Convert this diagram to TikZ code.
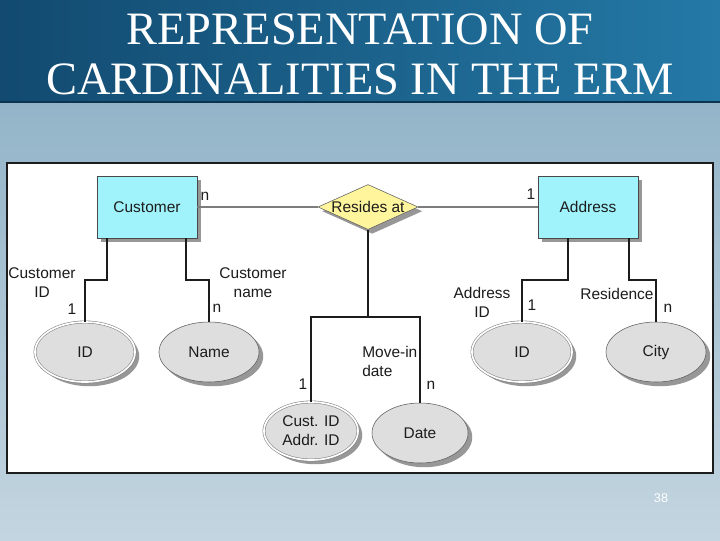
\documentclass[tikz,border=0pt]{standalone}
\usepackage{fontspec}
\setmainfont{Liberation Sans}
\newfontfamily\titlefont{Liberation Serif}
\usetikzlibrary{shapes.geometric,shadows,calc}
\definecolor{ErmBandDark}{HTML}{124A70}
\definecolor{ErmBandLight}{HTML}{2479A6}
\definecolor{ErmSkyTop}{HTML}{93B4C8}
\definecolor{ErmSkyBot}{HTML}{C3D5E0}
\definecolor{ErmCyan}{HTML}{A0F3FA}
\definecolor{ErmYellow}{HTML}{FFF59C}
\definecolor{ErmOval}{HTML}{DEDEDE}
\definecolor{ErmInk}{HTML}{1C1C1C}
\definecolor{ErmRule}{HTML}{7C7C7C}

\begin{document}
\begin{tikzpicture}[x=0.025cm,y=-0.025cm,
  lbl/.style={font=\fontsize{11}{13.5}\selectfont,text=ErmInk,align=center,inner sep=0pt},
  shade box/.style={drop shadow={shadow xshift=3pt,shadow yshift=-3pt,fill=black!45,opacity=.9}},
  entity/.style={lbl,draw=ErmInk!80,fill=ErmCyan,minimum width=2.5cm,minimum height=1.55cm,shade box},
  relship/.style={lbl,diamond,aspect=2.2,draw=ErmInk!70,fill=ErmYellow,minimum width=2.5cm,minimum height=1.125cm,shade box},
  attr/.style={lbl,ellipse,draw=ErmInk!70,fill=ErmOval,minimum width=2.5cm,minimum height=1.5cm,shade box},
  keyattr/.style={attr,draw=ErmInk!55,double=white,double distance=1.2pt},
  conn/.style={draw=ErmInk,line width=1.2pt},
  rel/.style={draw=ErmRule,line width=1.8pt}]
  \useasboundingbox (0,0) rectangle (720,540);
  % slide background
  \shade[left color=ErmBandDark,right color=ErmBandLight] (0,0) rectangle (720,102);
  \shade[top color=ErmSkyTop,bottom color=ErmSkyBot] (0,102) rectangle (720,540);
  \draw[ErmBandDark!70!black,line width=1pt] (0,102) -- (720,102);
  \node[font=\titlefont\fontsize{33}{35.4}\selectfont,text=white,align=center] (title) at (360,54)
    {REPRESENTATION OF\\CARDINALITIES IN THE ERM};
  \draw[ErmInk,fill=white,line width=.8pt] (7,163) rectangle (713,473);

  % entities and relationship
  \node[entity] (cust) at (147,207) {Customer};
  \node[entity] (addr) at (588,207) {Address};
  \node[relship] (res) at (368,207) {Resides at};

  % attributes
  \node[keyattr] (custid) at (85,352) {ID};
  \node[attr] (custname) at (209,352) {Name};
  \node[keyattr] (addrid) at (522,352) {ID};
  \node[attr] (city) at (656,352) {City};
  \node[keyattr,minimum width=2.35cm,minimum height=1.45cm] (moveid) at (311,431) {Cust. ID\\Addr. ID};
  \node[attr,minimum width=2.4cm] (movedate) at (420,433) {Date};

  % connectors
  \draw[rel] (cust) -- (res);
  \draw[rel] (res) -- (addr);
  \draw[conn] ($(cust.south west)!.1!(cust.south east)$) |- ($(custid.north)+(0,-42)$) -- (custid.north);
  \draw[conn] ($(cust.south west)!.89!(cust.south east)$) |- ($(custname.north)+(0,-42)$) -- (custname.north);
  \draw[conn] ($(addr.south west)!.3!(addr.south east)$) |- ($(addrid.north)+(0,-42)$) -- (addrid.north);
  \draw[conn] ($(addr.south west)!.91!(addr.south east)$) |- ($(city.north)+(0,-42)$) -- (city.north);
  \draw[conn] (moveid.north) -- ++(0,-85) coordinate (forkL) -| (movedate.north);
  \draw[conn] (res.south) -- (res.south |- forkL);

  % cardinalities and attribute names
  \node[lbl] (custC) at (205,196) {n};
  \node[lbl] (addrC) at (531,194) {1};
  \node[lbl] (custidL) at (42,283) {Customer\\ID};
  \node[lbl] (custidC) at (72,309) {1};
  \node[lbl] (custnameL) at (253,283) {Customer\\name};
  \node[lbl] (custnameC) at (217,308) {n};
  \node[lbl] (addridL) at (482,302) {Address\\ID};
  \node[lbl] (addridC) at (532,305) {1};
  \node[lbl] (cityL) at (617,294) {Residence};
  \node[lbl] (cityC) at (668,308) {n};
  \node[lbl] (moveidC) at (303,384) {1};
  \node[lbl] (movedateC) at (431,385) {n};
  \node[lbl,align=left,anchor=west] (movedateL) at (362,361) {Move-in\\date};

  \node[font=\fontsize{9}{10}\selectfont,text=white] (page) at (661,498) {38};
\end{tikzpicture}
\end{document}
